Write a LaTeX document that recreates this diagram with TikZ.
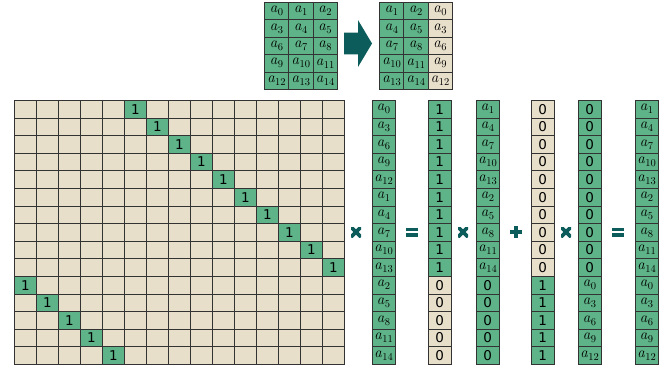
\documentclass[tikz,border=0pt]{standalone}
\usepackage{fontspec}
\newfontfamily\djsans{DejaVu Sans}
\newcommand\av[1]{\textit{a}\kern0.3pt\raisebox{-3pt}{\fontsize{10.5}{10.5}\selectfont #1}}
\definecolor{cgreen}{RGB}{94,180,136}
\definecolor{cbeige}{RGB}{232,223,203}
\definecolor{cteal}{RGB}{12,92,92}
\begin{document}
\begin{tikzpicture}[x=1pt,y=-1pt,
  box/.style={draw=black!80, line width=0.7pt, inner sep=0pt, anchor=north west, font=\fontsize{15}{15}\selectfont},
  gcell/.style={box, fill=cgreen},
  bcell/.style={box, fill=cbeige},
  gridcell/.style={minimum width=22pt, minimum height=17.6pt},
  veccell/.style={minimum width=22.5pt, minimum height=17.6pt},
  topcell/.style={minimum width=24.3pt, minimum height=17.4pt},
  dig/.style={font=\djsans\fontsize{13.5}{13.5}\selectfont},
  timesop/.style={minimum width=10pt, minimum height=10pt, inner sep=0pt,
    path picture={\draw[cteal,line width=3.6pt] (path picture bounding box.north west)--(path picture bounding box.south east) (path picture bounding box.north east)--(path picture bounding box.south west);}},
  plusop/.style={minimum width=12pt, minimum height=12pt, inner sep=0pt,
    path picture={\draw[cteal,line width=4pt] (path picture bounding box.north)--(path picture bounding box.south) (path picture bounding box.west)--(path picture bounding box.east);}},
  eqop/.style={minimum width=12pt, minimum height=9pt, inner sep=0pt,
    path picture={\fill[cteal] (path picture bounding box.north west) rectangle ([yshift=0.8pt]path picture bounding box.east);
      \fill[cteal] ([yshift=-0.8pt]path picture bounding box.west) rectangle (path picture bounding box.south east);}}
]
\useasboundingbox (0,0) rectangle (670,373);

% big permutation grid
\foreach \r in {0,...,14}{
  \foreach \c in {0,...,14}{
    \pgfmathtruncatemacro\k{mod(\r+5,15)}
    \ifnum\c=\k
      \node[gcell,gridcell,dig] (g-\r-\c) at ({14+22*\c},{100+17.6*\r}) {1};
    \else
      \node[bcell,gridcell] (g-\r-\c) at ({14+22*\c},{100+17.6*\r}) {};
    \fi
  }
}

% vector 1
\foreach \lab [count=\i from 0] in {0,3,6,9,12,1,4,7,10,13,2,5,8,11,14}{
  \node[gcell,veccell] (va-\i) at (372,{100+17.6*\i}) {\av{\lab}};
}
% vector 2
\foreach \i in {0,...,14}{
  \ifnum\i<10
    \node[gcell,veccell,dig] (vb-\i) at (428,{100+17.6*\i}) {1};
  \else
    \node[bcell,veccell,dig] (vb-\i) at (428,{100+17.6*\i}) {0};
  \fi
}
% vector 3
\foreach \lab [count=\i from 0] in {1,4,7,10,13,2,5,8,11,14}{
  \node[gcell,veccell] (vc-\i) at (476,{100+17.6*\i}) {\av{\lab}};
}
\foreach \i in {10,...,14}{
  \node[gcell,veccell,dig] (vc-\i) at (476,{100+17.6*\i}) {0};
}
% vector 4
\foreach \i in {0,...,14}{
  \ifnum\i<10
    \node[bcell,veccell,dig] (vd-\i) at (531,{100+17.6*\i}) {0};
  \else
    \node[gcell,veccell,dig] (vd-\i) at (531,{100+17.6*\i}) {1};
  \fi
}
% vector 5
\foreach \i in {0,...,9}{
  \node[gcell,veccell,dig] (ve-\i) at (578,{100+17.6*\i}) {0};
}
\foreach \lab [count=\i from 10] in {0,3,6,9,12}{
  \node[gcell,veccell] (ve-\i) at (578,{100+17.6*\i}) {\av{\lab}};
}
% vector 6
\foreach \lab [count=\i from 0] in {1,4,7,10,13,2,5,8,11,14,0,3,6,9,12}{
  \node[gcell,veccell] (vf-\i) at (635,{100+17.6*\i}) {\av{\lab}};
}

% operators
\node[timesop] (op1) at (356,232) {};
\node[eqop]    (op2) at (412,232) {};
\node[timesop] (op3) at (463,232) {};
\node[plusop]  (op4) at (516,232) {};
\node[timesop] (op5) at (566,232) {};
\node[eqop]    (op6) at (618,232) {};

% top matrices
\foreach \r in {0,...,4}{
  \foreach \c in {0,...,2}{
    \pgfmathtruncatemacro\n{3*\r+\c}
    \node[gcell,topcell] (ta-\r-\c) at ({264+24.3*\c},{2+17.4*\r}) {\av{\n}};
    \pgfmathtruncatemacro\m{3*\r+mod(\c+1,3)}
    \ifnum\c<2
      \node[gcell,topcell] (tb-\r-\c) at ({379+24.3*\c},{2+17.4*\r}) {\av{\m}};
    \else
      \node[bcell,topcell] (tb-\r-\c) at ({379+24.3*\c},{2+17.4*\r}) {\av{\m}};
    \fi
  }
}

% big arrow
\fill[cteal] (344,32.7) -- (358,32.7) -- (358,20) -- (372,43.5) -- (358,67) -- (358,54.3) -- (344,54.3) -- cycle;
\end{tikzpicture}
\end{document}
